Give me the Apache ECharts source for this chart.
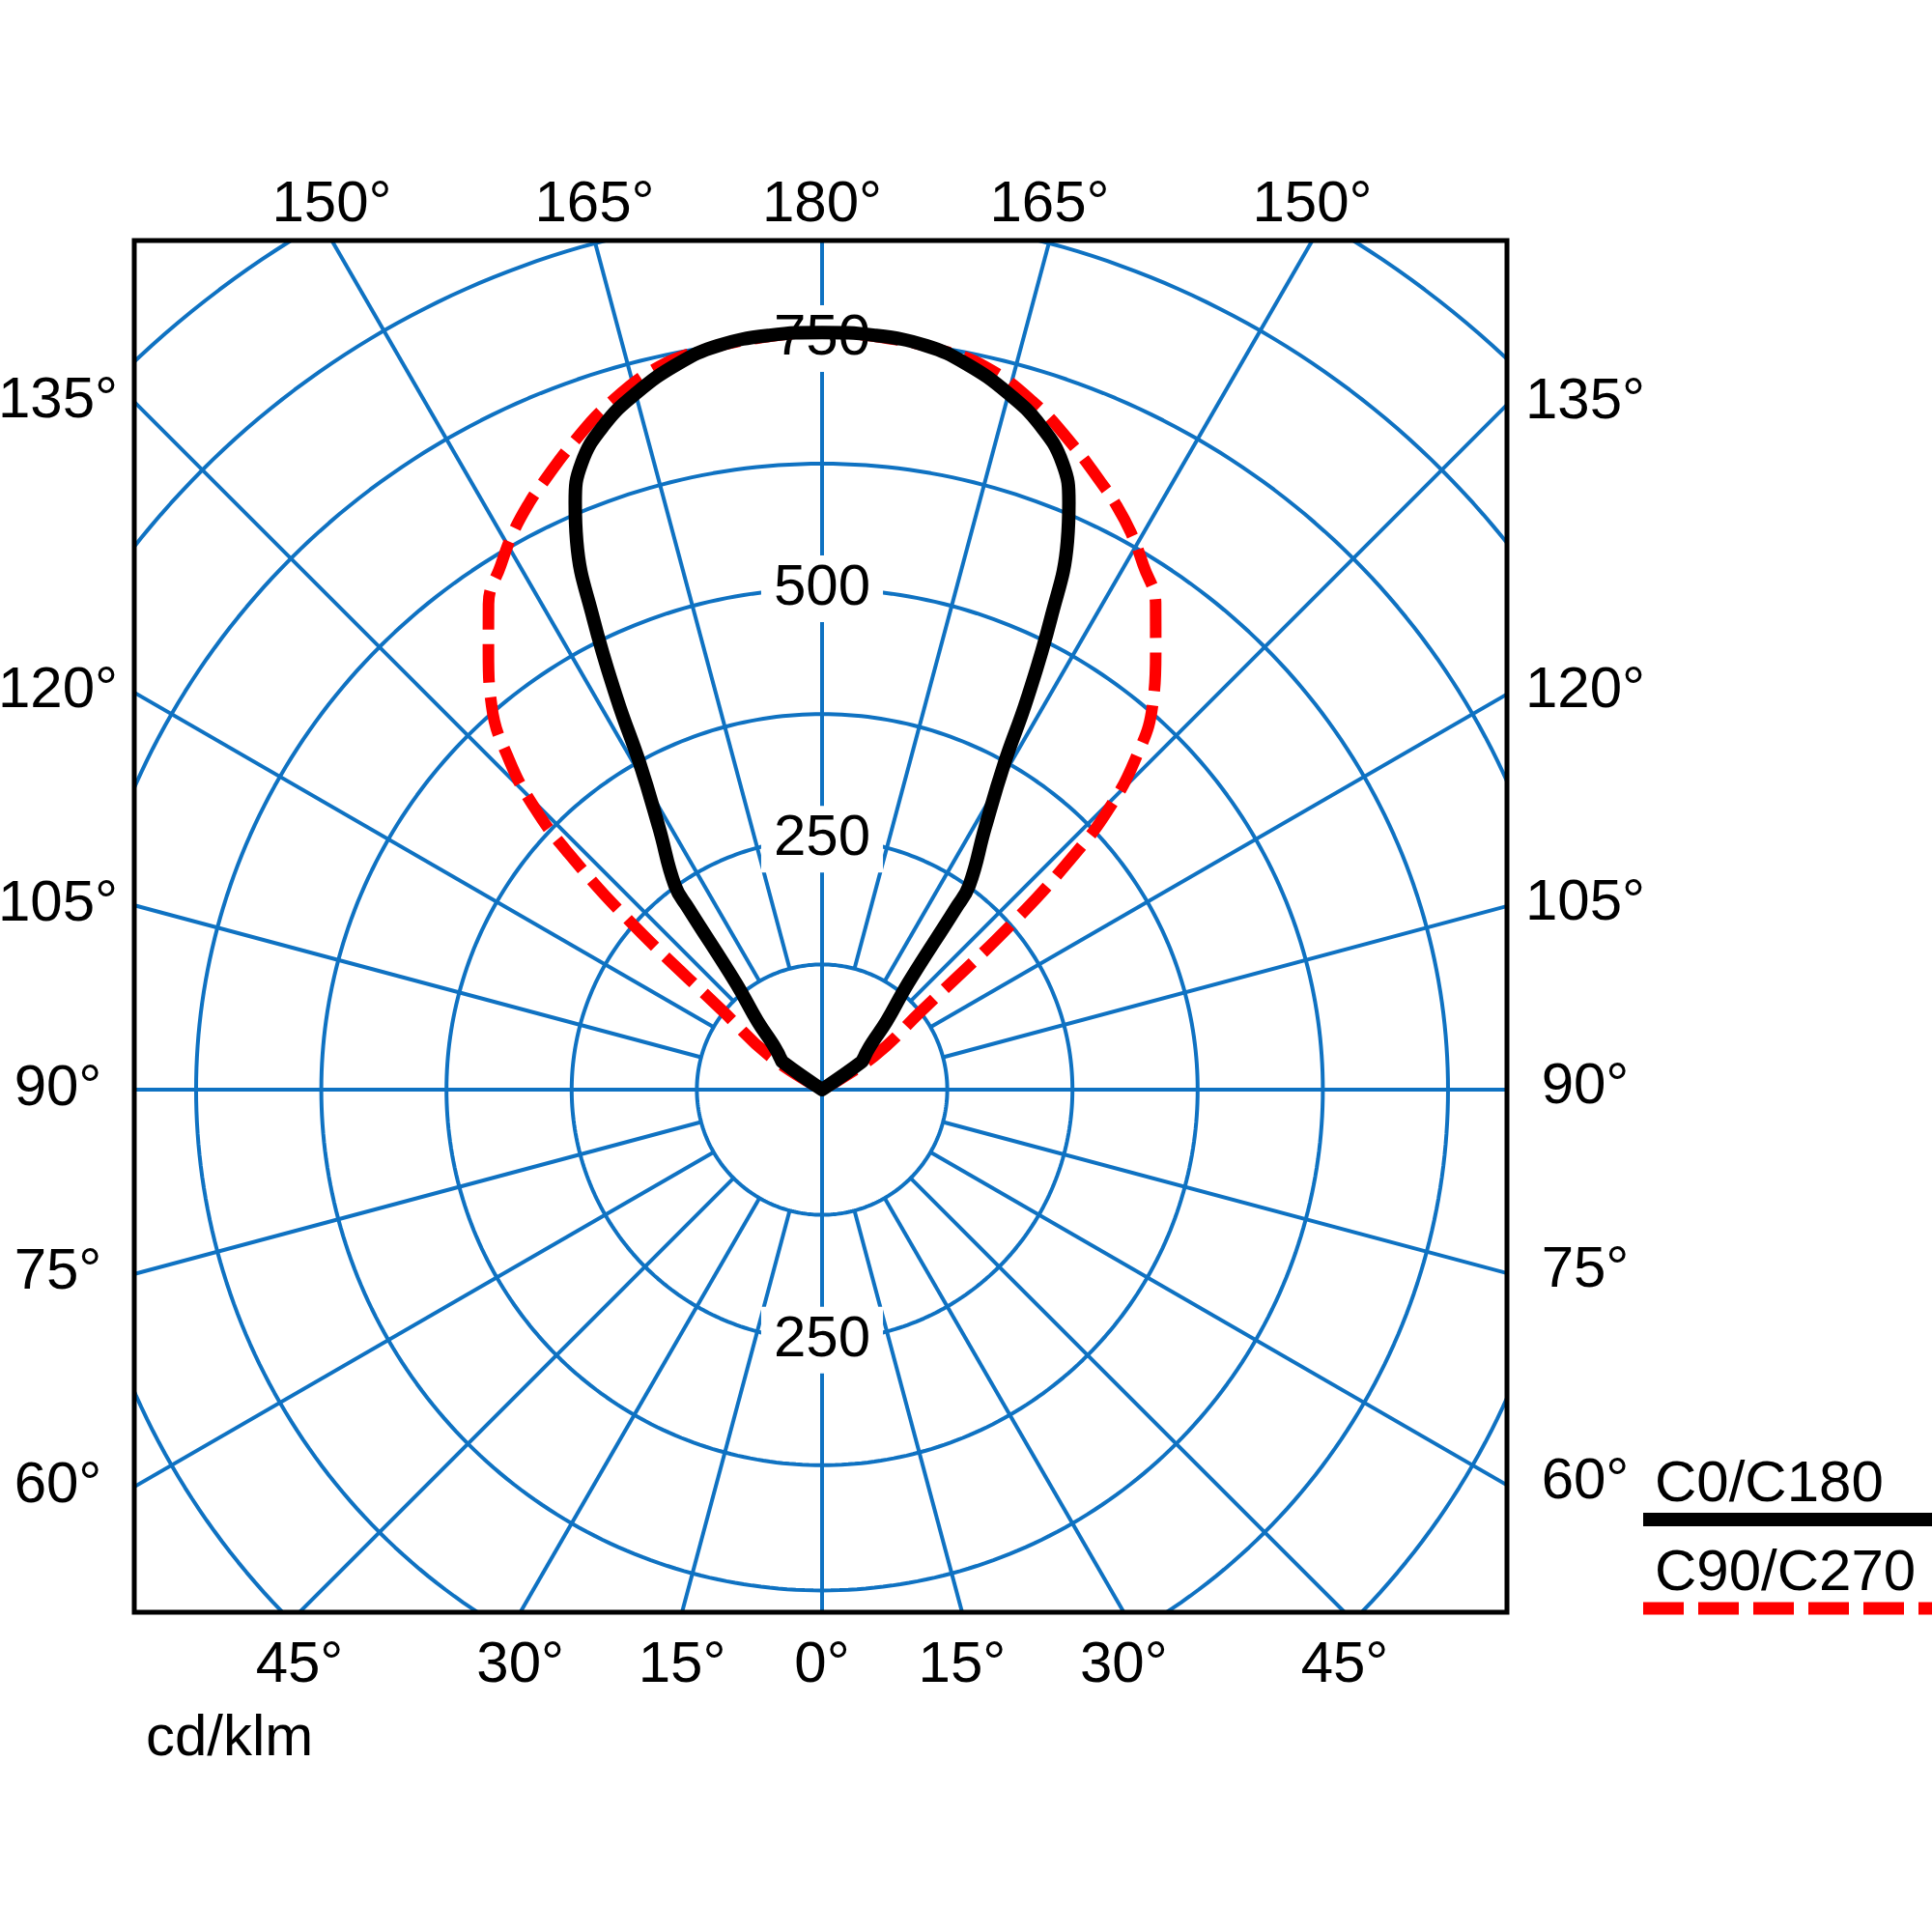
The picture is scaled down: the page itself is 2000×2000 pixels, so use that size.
<!DOCTYPE html>
<html>
<head>
<meta charset="utf-8">
<script src="https://cdn.jsdelivr.net/npm/echarts@6/dist/echarts.min.js"></script>
<style>html,body{margin:0;padding:0;background:#fff}#c{width:2000px;height:2000px}</style>
</head>
<body>
<div id="c"></div>
<script>
// ---------------- data ----------------
const seriesNames = ['C0/C180', 'C90/C270'];
// gamma angle (deg, 0 = nadir, 180 = zenith) and intensity (cd/klm)
const c0Angles  = [123, 125, 127, 130, 133, 136.7, 141, 143.6, 144.2, 148.1, 150.8, 152.3, 154.1, 155.9, 157.2, 159, 161.8, 165.1, 168.8, 172, 176, 180];
const c0Values  = [0,   48,  52,  58,  68,  94,    136, 225,   251,   308,   373,   440,   523,   600,   636,   670, 698,   720,   739,   750, 755, 756];
const c90Angles = [118, 122.7, 128.3, 131.2, 133, 134.4, 136.5, 139.3, 142.8, 145.5, 148.5, 151, 153.5, 155.3, 158.8, 162.9, 167.3, 171, 175, 180];
const c90Values = [0,   62,    125,   255,   346, 401,   454,   506,   551,   588,   614,   636, 655,   667,   691,   718,   740,   748, 753, 756];
const ringValues = [125, 250, 375, 500, 625, 750, 875, 1000];
const ringLabelsUpper = [250, 500, 750];
const ringLabelsLower = [250];
const spokeAngles = [0, 15, 30, 45, 60, 75, 90, 105, 120, 135, 150, 165, 180, 195, 210, 225, 240, 255, 270, 285, 300, 315, 330, 345];
const angleTickLabels = [0, 15, 30, 45, 60, 75, 90, 105, 120, 135, 150, 165, 180];
const unitLabel = 'cd/klm';

// ---------------- layout ----------------
const FONT = 'Liberation Sans, Arial, Helvetica, sans-serif';
const BLUE = '#0f72c2';
const PXU = 129.6 / 125;          // pixels per cd/klm
const CX = 851, CY = 1128;        // pole position (px)
const L = 139, R = 1560, T = 249, B = 1669; // frame
const xMin = (L - CX) / PXU, xMax = (R - CX) / PXU;
const yMax = (CY - T) / PXU, yMin = (CY - B) / PXU;

const rad = d => d * Math.PI / 180;
function toXY(theta, I, side) {
  return [side * I * Math.sin(rad(theta)), -I * Math.cos(rad(theta))];
}
function closedCurve(angles, values) {
  const pts = [];
  for (let i = 0; i < angles.length; i++) pts.push(toXY(angles[i], values[i], 1));
  for (let i = angles.length - 2; i >= 0; i--) pts.push(toXY(angles[i], values[i], -1));
  return pts;
}

const series = [];
// rings
ringValues.forEach(rv => {
  const pts = [];
  for (let a = 0; a <= 360; a += 1) pts.push(toXY(a, rv, 1));
  series.push({
    type: 'line', data: pts, showSymbol: false, silent: true, z: 1, clip: true,
    lineStyle: { color: BLUE, width: 4 }, animation: false
  });
});
// spokes
spokeAngles.forEach(a => {
  const start = (a % 90 === 0) ? 0 : ringValues[0];
  series.push({
    type: 'line', data: [toXY(a, start, 1), toXY(a, 1300, 1)], showSymbol: false, silent: true, z: 1, clip: true,
    lineStyle: { color: BLUE, width: 4 }, animation: false
  });
});
// ring value labels
const ringLabelData = ringLabelsUpper.map(v => [0, v, String(v)]).concat(ringLabelsLower.map(v => [0, -v, String(v)]));
series.push({
  type: 'scatter', data: ringLabelData, symbolSize: 0, z: 3, silent: true, clip: false, animation: false,
  itemStyle: { opacity: 1 },
  label: {
    show: true, position: 'inside', formatter: p => p.value[2], opacity: 1,
    fontFamily: FONT, fontSize: 60, color: '#000', backgroundColor: '#fff', textBorderWidth: 0,
    padding: [5, 13, 4, 13], lineHeight: 60, align: 'center', verticalAlign: 'middle'
  }
});
// curves
series.push({
  name: seriesNames[1], type: 'line', data: closedCurve(c90Angles, c90Values), showSymbol: false, smooth: 0.45,
  z: 5, animation: false,
  lineStyle: { color: '#ff0000', width: 12, type: [40, 15], cap: 'butt', join: 'round' }
});
series.push({
  name: seriesNames[0], type: 'line', data: closedCurve(c0Angles, c0Values), showSymbol: false, smooth: 0.45,
  z: 6, animation: false,
  lineStyle: { color: '#000000', width: 14, cap: 'round', join: 'round' }
});

// angle labels placed where the spokes meet the frame
function frameHit(theta, side) {
  const dx = side * Math.sin(rad(theta)), dy = -Math.cos(rad(theta));
  let best = Infinity, edge = null;
  const eps = 1e-9;
  if (dx > eps && xMax / dx < best) { best = xMax / dx; edge = 'right'; }
  if (dx < -eps && xMin / dx < best) { best = xMin / dx; edge = 'left'; }
  if (dy > eps && yMax / dy < best) { best = yMax / dy; edge = 'top'; }
  if (dy < -eps && yMin / dy < best) { best = yMin / dy; edge = 'bottom'; }
  return { pt: [dx * best, dy * best], edge };
}
const edgeOffset = { top: [0, -37], bottom: [0, 55], left: [-79, -1], right: [81, -3] };
const angleLabelData = [];
angleTickLabels.forEach(a => {
  const sides = (a === 0 || a === 180) ? [1] : [-1, 1];
  sides.forEach(s => {
    const h = frameHit(a, s);
    angleLabelData.push({
      value: [h.pt[0], h.pt[1], a + '°'],
      label: { offset: edgeOffset[h.edge] }
    });
  });
});
series.push({
  type: 'scatter', data: angleLabelData, symbolSize: 0, z: 7, silent: true, clip: false, animation: false,
  itemStyle: { opacity: 1 },
  label: {
    show: true, position: 'inside', formatter: p => p.value[2], opacity: 1, textBorderWidth: 0,
    fontFamily: FONT, fontSize: 60, color: '#000', align: 'center', verticalAlign: 'middle'
  }
});

const chart = echarts.init(document.getElementById('c'), null, { renderer: 'canvas' });
chart.setOption({
  animation: false,
  backgroundColor: '#ffffff',
  grid: { left: L, top: T, width: R - L, height: B - T, show: false },
  xAxis: { type: 'value', min: xMin, max: xMax, show: false },
  yAxis: { type: 'value', min: yMin, max: yMax, show: false },
  series: series,
  graphic: [
    { type: 'rect', z: 100, silent: true, shape: { x: L, y: T, width: R - L, height: B - T },
      style: { fill: null, stroke: '#000', lineWidth: 5 } },
    { type: 'text', z: 100, silent: true, style: { text: unitLabel, x: 151, y: 1800, font: '60px ' + FONT, fill: '#000', verticalAlign: 'middle', align: 'left' } },
    { type: 'text', z: 100, silent: true, style: { text: seriesNames[0], x: 1713, y: 1537, font: '60px ' + FONT, fill: '#000', verticalAlign: 'middle', align: 'left' } },
    { type: 'line', z: 100, silent: true, shape: { x1: 1701, y1: 1573, x2: 2000, y2: 1573 }, style: { stroke: '#000', lineWidth: 14 } },
    { type: 'text', z: 100, silent: true, style: { text: seriesNames[1], x: 1713, y: 1629, font: '60px ' + FONT, fill: '#000', verticalAlign: 'middle', align: 'left' } },
    { type: 'line', z: 100, silent: true, shape: { x1: 1701, y1: 1665, x2: 2000, y2: 1665 }, style: { stroke: '#ff0000', lineWidth: 13, lineDash: [42, 15] } }
  ]
});
</script>
</body>
</html>
